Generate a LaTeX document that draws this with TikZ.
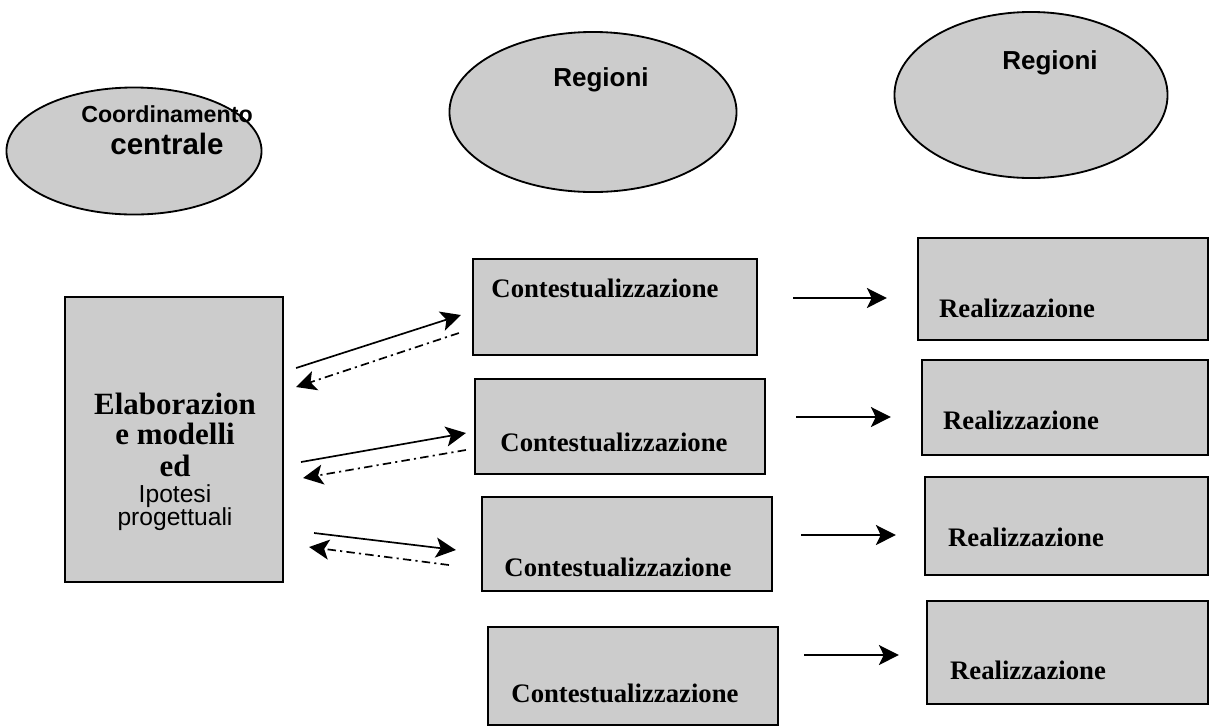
\documentclass[tikz,border=0pt]{standalone}
\usepackage{fontspec}
\setmainfont{Liberation Serif}
\setsansfont{Liberation Sans}
\usepackage{tikz}
\usetikzlibrary{shapes.geometric,arrows.meta,positioning,calc}

\begin{document}
\begin{tikzpicture}[
    x=0.025cm, y=-0.025cm,
    every node/.style={inner sep=0pt},
    bubble/.style={ellipse, draw, line width=1.3pt, fill=black!20},
    box/.style={rectangle, draw, line width=1.5pt, fill=black!20},
    boxtext/.style={font=\fontsize{19}{22}\selectfont\bfseries},
    bubtext/.style={font=\sffamily\bfseries\fontsize{18.5}{22}\selectfont},
    fwd/.style={line width=1.2pt, -{Stealth[length=5mm,width=5mm,inset=1.2mm]}},
    back/.style={line width=1.2pt, dash pattern=on 6pt off 3pt on 1.5pt off 3pt,
                 -{Stealth[length=5mm,width=5mm,inset=1.2mm]}}
]
\useasboundingbox (0,0) rectangle (1210,726);

% ellipses on top
\node[bubble, minimum width=6.375cm, minimum height=3.175cm] (coord) at (134,151) {};
\node[font=\sffamily\bfseries\fontsize{16.5}{23}\selectfont, align=center] (coordtxt) at (167,130)
    {{\fontsize{16.5}{20}\selectfont Coordinamento}\\{\fontsize{21}{24}\selectfont centrale}};
\node[bubble, minimum width=7.175cm, minimum height=4cm] (reg1) at (593,112) {};
\node[bubtext] (reg1txt) at (601,80) {Regioni};
\node[bubble, minimum width=6.825cm, minimum height=4.15cm] (reg2) at (1031,95) {};
\node[bubtext] (reg2txt) at (1050,63) {Regioni};

% central coordination box
\node[box, minimum width=5.45cm, minimum height=7.125cm] (elab) at (174,439.5) {};
\node[align=center, font=\fontsize{17.5}{16.5}\selectfont] (elabtxt) at (175,462)
    {{\bfseries\fontsize{22}{22}\selectfont Elaborazion}\\[4.5pt]
     {\bfseries\fontsize{22}{22}\selectfont e modelli}\\[6.5pt]
     {\bfseries\fontsize{22}{22}\selectfont ed}\\[1.5pt]
     {\sffamily Ipotesi}\\
     {\sffamily progettuali}};

% regional boxes
\node[box, minimum width=7.1cm, minimum height=2.4cm] (ctx1) at (615,307) {};
\node[boxtext] (ctx1txt) at (605,288) {Contestualizzazione};
\node[box, minimum width=7.25cm, minimum height=2.375cm] (ctx2) at (620,426.5) {};
\node[boxtext] (ctx2txt) at (614,442) {Contestualizzazione};
\node[box, minimum width=7.25cm, minimum height=2.35cm] (ctx3) at (627,544) {};
\node[boxtext] (ctx3txt) at (618,567) {Contestualizzazione};
\node[box, minimum width=7.25cm, minimum height=2.45cm] (ctx4) at (633,676) {};
\node[boxtext] (ctx4txt) at (625,693) {Contestualizzazione};

\node[box, minimum width=7.25cm, minimum height=2.55cm] (real1) at (1063,289) {};
\node[boxtext] (real1txt) at (1017,308) {Realizzazione};
\node[box, minimum width=7.15cm, minimum height=2.375cm] (real2) at (1065,407.5) {};
\node[boxtext] (real2txt) at (1021,420) {Realizzazione};
\node[box, minimum width=7.075cm, minimum height=2.45cm] (real3) at (1066.5,526) {};
\node[boxtext] (real3txt) at (1026,537) {Realizzazione};
\node[box, minimum width=7.025cm, minimum height=2.575cm] (real4) at (1067.5,652.5) {};
\node[boxtext] (real4txt) at (1028,670) {Realizzazione};

% exchange with the regions
\draw[fwd]  ($(elab.east)+(12,-71.5)$) -- ($(ctx1.west)+(-11,8)$);
\draw[back] ($(ctx1.west)+(-13,26)$) -- ($(elab.east)+(12,-52.5)$);
\draw[fwd]  ($(elab.east)+(17,22.5)$) -- ($(ctx2.west)+(-8,6.5)$);
\draw[back] ($(ctx2.west)+(-8,23.5)$) -- ($(elab.east)+(19,38.5)$);
\draw[fwd]  ($(elab.east)+(30,93.5)$) -- ($(ctx3.west)+(-25,6)$);
\draw[back] ($(ctx3.west)+(-32,21)$) -- ($(elab.east)+(25,107.5)$);

% from context to realisation
\draw[fwd] ($(ctx1.east)+(35,-9)$) -- ($(real1.west)+(-30,9)$);
\draw[fwd] ($(ctx2.east)+(30,-9.5)$) -- ($(real2.west)+(-30,9.5)$);
\draw[fwd] ($(ctx3.east)+(28,-9)$) -- ($(real3.west)+(-28,9)$);
\draw[fwd] ($(ctx4.east)+(25,-21)$) -- ($(real4.west)+(-27,2.5)$);
\end{tikzpicture}
\end{document}
